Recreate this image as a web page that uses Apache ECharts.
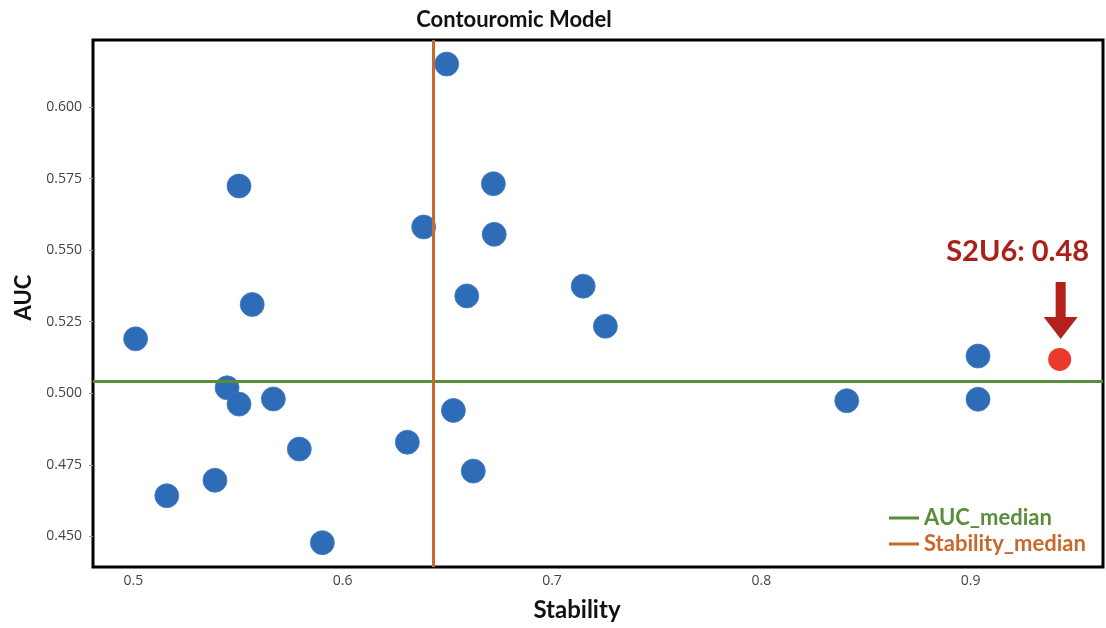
<!DOCTYPE html>
<html>
<head>
<meta charset="utf-8">
<script src="https://cdn.jsdelivr.net/npm/echarts@6/dist/echarts.min.js"></script>
<style>
  html, body { margin: 0; padding: 0; background: #fff; }
  #chart { width: 1106px; height: 628px; }
</style>
</head>
<body>
<div id="chart"></div>
<script>
// Stability (x) and AUC (y) for each evaluated configuration
const stability = [0.5011, 0.5160, 0.5390, 0.5505, 0.5448, 0.5505, 0.5568, 0.5669, 0.5793, 0.5903,
                   0.6309, 0.6387, 0.6497, 0.6529, 0.6593, 0.6624, 0.6720, 0.6724, 0.7149, 0.7255,
                   0.8408, 0.9035, 0.9035];
const auc = [0.5190, 0.4642, 0.4696, 0.5724, 0.5019, 0.4962, 0.5310, 0.4980, 0.4805, 0.4478,
             0.4829, 0.5581, 0.6150, 0.4940, 0.5340, 0.4728, 0.5732, 0.5555, 0.5374, 0.5234,
             0.4974, 0.4979, 0.5130];

// Highlighted configuration
const highlightName = 'S2U6';
const highlightPoint = [0.9425, 0.5118];
const highlightLabel = 'S2U6: 0.48';

// Median reference lines
const aucMedian = 0.5043;
const stabilityMedian = 0.6435;

// Axis ticks
const xTicks = [0.5, 0.6, 0.7, 0.8, 0.9];
const yTicks = [0.450, 0.475, 0.500, 0.525, 0.550, 0.575, 0.600];

const points = stability.map((s, i) => [s, auc[i]]);

const GREEN = '#5b8c3a';
const ORANGE = '#c9682c';
const BLUE = '#2e6cb8';
const RED = '#ea3a2c';
const DARKRED = '#a8221b';

const chart = echarts.init(document.getElementById('chart'), null, { renderer: 'canvas' });

const arrowPath = 'path://M12,0 H22 V35 H34 L17,57 L0,35 H12 Z';

chart.setOption({
  animation: false,
  backgroundColor: '#fff',
  title: {
    text: 'Contouromic Model',
    left: 509,
    top: 4,
    textAlign: 'center',
    textStyle: { fontFamily: 'Lato', fontWeight: 'bold', fontSize: 22, color: '#111' }
  },
  grid: {
    left: 93, right: 3, top: 40, bottom: 61,
    show: true, borderColor: '#000', borderWidth: 3, backgroundColor: '#fff'
  },
  legend: {
    orient: 'vertical',
    left: 884,
    top: 502,
    icon: 'rect',
    itemWidth: 30,
    itemHeight: 3,
    itemGap: 4,
    textStyle: { fontFamily: 'Lato', fontWeight: 'bold', fontSize: 22 },
    data: [
      { name: 'AUC_median', textStyle: { color: GREEN } },
      { name: 'Stability_median', textStyle: { color: ORANGE } }
    ]
  },
  xAxis: {
    type: 'value',
    min: 0.48075,
    max: 0.9632,
    name: 'Stability',
    nameLocation: 'middle',
    nameGap: 31,
    nameTextStyle: {
      fontFamily: 'Lato', fontWeight: 'bold', fontSize: 24, color: '#111',
      padding: [0, 42, 0, 0]
    },
    axisLine: { show: false },
    axisTick: { show: false, customValues: xTicks },
    axisLabel: {
      customValues: xTicks,
      margin: 7,
      fontFamily: 'Open Sans', fontSize: 14, color: '#444',
      formatter: v => v.toFixed(1)
    },
    splitLine: { show: false }
  },
  yAxis: {
    type: 'value',
    min: 0.4393,
    max: 0.6234,
    name: 'AUC',
    nameLocation: 'middle',
    nameGap: 56,
    nameTextStyle: {
      fontFamily: 'Lato', fontWeight: 'bold', fontSize: 22, color: '#111',
      padding: [0, 0, 0, 12]
    },
    axisLine: { show: false },
    axisTick: { show: true, customValues: yTicks, length: 4, lineStyle: { color: '#999' } },
    axisLabel: {
      customValues: yTicks,
      margin: 11,
      fontFamily: 'Open Sans', fontSize: 14, color: '#444',
      formatter: v => v.toFixed(3)
    },
    splitLine: { show: false }
  },
  series: [
    {
      name: 'AUC_median',
      type: 'line',
      data: [],
      itemStyle: { color: GREEN },
      lineStyle: { color: GREEN },
      markLine: {
        silent: true,
        symbol: 'none',
        precision: 4,
        label: { show: false },
        lineStyle: { color: GREEN, width: 3, type: 'solid', opacity: 1 },
        data: [{ yAxis: aucMedian }]
      }
    },
    {
      name: 'Stability_median',
      type: 'line',
      data: [],
      itemStyle: { color: ORANGE },
      lineStyle: { color: ORANGE },
      markLine: {
        silent: true,
        symbol: 'none',
        precision: 4,
        label: { show: false },
        lineStyle: { color: ORANGE, width: 3, type: 'solid', opacity: 1 },
        data: [{ xAxis: stabilityMedian }]
      }
    },
    {
      name: 'configs',
      type: 'scatter',
      data: points,
      symbolSize: 24,
      itemStyle: { color: BLUE, opacity: 1, borderColor: '#3d7cc4', borderWidth: 0.8 },
      z: 3
    },
    {
      name: highlightName,
      type: 'scatter',
      data: [highlightPoint],
      symbolSize: 23,
      itemStyle: { color: RED, opacity: 1 },
      z: 4,
      markPoint: {
        silent: true,
        data: [
          {
            coord: highlightPoint,
            symbol: arrowPath,
            symbolSize: [34, 57],
            symbolKeepAspect: false,
            symbolOffset: [1, -49],
            itemStyle: { color: '#b3211a' },
            label: { show: false }
          },
          {
            coord: highlightPoint,
            symbol: 'circle',
            symbolSize: 0,
            label: {
              show: true,
              formatter: highlightLabel,
              offset: [-42, -108],
              fontFamily: 'Lato', fontWeight: 'bold', fontSize: 29, color: DARKRED
            }
          }
        ]
      }
    }
  ]
});
</script>
</body>
</html>
